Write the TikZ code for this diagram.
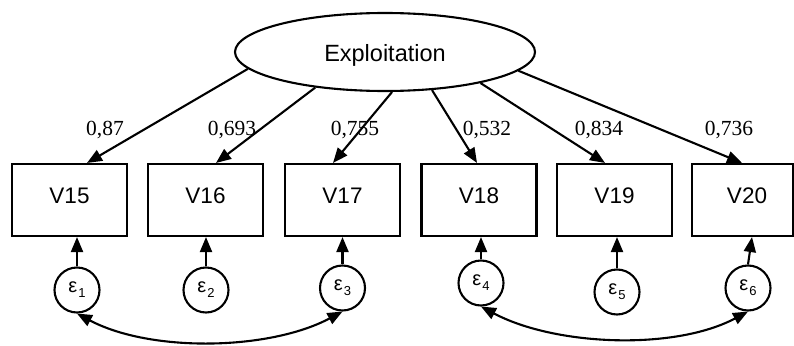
\documentclass[tikz,border=0pt]{standalone}
\usepackage{fontspec}
\setmainfont{Liberation Serif}
\newfontfamily\sansf{Liberation Sans}
\usetikzlibrary{arrows.meta,shapes.geometric,calc}

\tikzset{
  base line/.style={line width=2.1pt},
  tip/.style={-{Triangle[length=15pt,width=12pt]}},
  both tips/.style={{Triangle[length=15pt,width=12pt]}-{Triangle[length=15pt,width=12pt]}},
  latent/.style={base line, draw, ellipse, minimum width=300pt, minimum height=78pt, inner sep=0pt},
  manifest/.style={base line, draw, rectangle, minimum width=115pt, minimum height=72pt,
    inner sep=0pt, font=\sansf\fontsize{22.5}{22.5}\selectfont, text height=12pt, text depth=5pt},
  errnode/.style={base line, draw, circle, minimum size=45pt, inner sep=0pt},
  loading/.style={font=\fontsize{21.5}{21.5}\selectfont, inner sep=0pt},
}
\newcommand{\errlabel}[1]{{\sansf\fontsize{20}{20}\selectfont ε\kern1pt\raisebox{-5pt}{\fontsize{13}{13}\selectfont #1}}}

\begin{document}
\begin{tikzpicture}[x=1pt, y=-1pt]
  \useasboundingbox (0,0) rectangle (794,345);

  % latent factor
  \node[latent] (ex) at (385,52) {};
  \node[anchor=base, inner sep=0pt, font=\sansf\fontsize{23.5}{23.5}\selectfont] (extext) at (385,62) {Exploitation};

  % observed indicators
  \node[manifest] (v15) at (69.5,200) {V15};
  \node[manifest] (v16) at (205.5,200) {V16};
  \node[manifest] (v17) at (342.5,200) {V17};
  \node[manifest] (v18) at (479,200) {V18};
  \node[manifest] (v19) at (614.5,200) {V19};
  \node[manifest, minimum width=101pt] (v20) at (742.5,200) {\hspace*{9pt}V20};

  % error terms
  \node[errnode] (e1) at (77,290) {\errlabel{1}};
  \node[errnode] (e2) at (206,290) {\errlabel{2}};
  \node[errnode] (e3) at (342.5,288) {\errlabel{3}};
  \node[errnode] (e4) at (481,283) {\errlabel{4}};
  \node[errnode] (e5) at (617,292) {\errlabel{5}};
  \node[errnode] (e6) at (748,288) {\errlabel{6}};

  % factor loadings
  \draw[base line, tip] (ex.187.6) -- ($(v15.north)+(17.5,0)$);
  \draw[base line, tip] (ex.207.2) -- ($(v16.north)+(10.5,0)$);
  \draw[base line, tip] (ex.280)   -- ($(v17.north)+(-9.5,0)$);
  \draw[base line, tip] (ex.321)   -- ($(v18.north)+(-2,0)$);
  \draw[base line, tip] (ex.342)   -- ($(v19.north)+(-9.5,0)$);
  \draw[base line, tip] (ex.352.5) -- ($(v20.north)+(-0.5,0)$);

  \node[loading] (l15) at (105,130) {0,87};
  \node[loading] (l16) at (232,130) {0,693};
  \node[loading] (l17) at (355,130) {0,755};
  \node[loading] (l18) at (487,130) {0,532};
  \node[loading] (l19) at (599,130) {0,834};
  \node[loading] (l20) at (729,130) {0,736};

  % error paths
  \draw[base line, tip] (e1.north) -- (e1.north |- v15.south);
  \draw[base line, tip] (e2.north) -- (e2.north |- v16.south);
  \draw[base line, tip] (e3.north) -- (e3.north |- v17.south);
  \draw[base line, tip] (e4.north) -- (e4.north |- v18.south);
  \draw[base line, tip] (e5.north) -- (e5.north |- v19.south);
  \draw[base line, tip] (e6.north) -- ($(v20.south)+(9.5,0)$);

  % error covariances
  \draw[base line, both tips] (e1.south) to[out=-28, in=-152, looseness=0.8] (e3.south);
  \draw[base line, both tips] (e4.south) to[out=-28, in=-152, looseness=0.8] (e6.south);
\end{tikzpicture}
\end{document}
